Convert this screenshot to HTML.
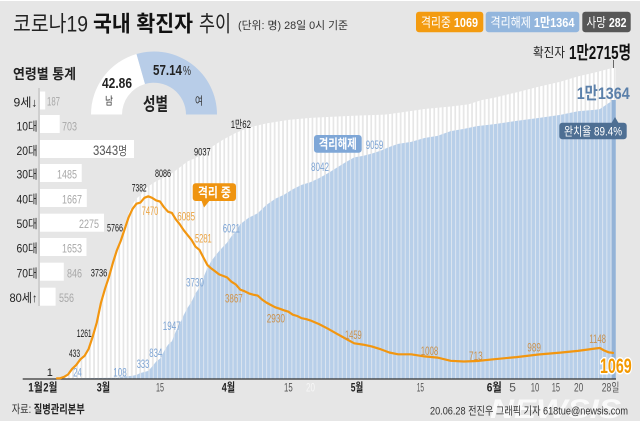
<!DOCTYPE html>
<html>
<head>
<meta charset="utf-8">
<style>
html,body{margin:0;padding:0;background:#fff}
svg{display:block}
text{font-family:"Liberation Sans","Noto Sans CJK KR",sans-serif}
</style>
</head>
<body>
<svg width="640" height="439" viewBox="0 0 640 439" xmlns="http://www.w3.org/2000/svg">
<defs>
<pattern id="pw" patternUnits="userSpaceOnUse" x="2.5" y="0" width="4.2" height="439">
<rect x="0" y="0" width="2.5" height="439" fill="#ffffff"/>
</pattern>
<pattern id="pb" patternUnits="userSpaceOnUse" x="2.5" y="0" width="4.2" height="439">
<rect x="0" y="0" width="4.2" height="439" fill="#dfe7f1"/>
<rect x="0" y="0" width="3.3" height="439" fill="#b8cfe9"/>
</pattern>
</defs>

<!-- background -->
<rect x="0" y="0" width="640" height="439" fill="#ffffff"/>
<rect x="0" y="1" width="640" height="420" fill="#e6e6e6"/>

<!-- Title -->
<text x="13" y="31.5" font-size="22" fill="#222" textLength="75" lengthAdjust="spacingAndGlyphs">코로나19</text>
<text x="93" y="31.5" font-size="22" font-weight="bold" fill="#111" textLength="100" lengthAdjust="spacingAndGlyphs">국내 확진자</text>
<text x="199" y="31.5" font-size="22" fill="#222" textLength="32" lengthAdjust="spacingAndGlyphs">추이</text>
<text x="238" y="29" font-size="11" fill="#333" textLength="110" lengthAdjust="spacingAndGlyphs">(단위: 명) 28일 0시 기준</text>

<!-- Legend badges -->
<rect x="416" y="11.7" width="67.3" height="20.6" rx="3" fill="#f39b10"/>
<text x="421" y="27" font-size="13" fill="#fff" textLength="57" lengthAdjust="spacingAndGlyphs">격리중 <tspan font-weight="bold">1069</tspan></text>
<rect x="485.7" y="11.7" width="93.6" height="20.6" rx="3" fill="#93b6dd"/>
<text x="490.5" y="27" font-size="13" fill="#fff" textLength="84" lengthAdjust="spacingAndGlyphs">격리해제 <tspan font-weight="bold">1만1364</tspan></text>
<rect x="582.3" y="11.7" width="48.4" height="20.6" rx="3" fill="#575757"/>
<text x="586.5" y="27" font-size="13" fill="#fff" textLength="40" lengthAdjust="spacingAndGlyphs">사망 <tspan font-weight="bold">282</tspan></text>

<!-- 확진자 total -->
<text x="533" y="57" font-size="13" fill="#222" textLength="32" lengthAdjust="spacingAndGlyphs">확진자</text>
<text x="569" y="59" font-size="18" font-weight="bold" fill="#111" textLength="62" lengthAdjust="spacingAndGlyphs">1만2715명</text>
<line x1="613.5" y1="60" x2="613.5" y2="68" stroke="#666" stroke-width="1"/>

<!-- Bars: cumulative confirmed (white) -->
<polygon fill="url(#pw)" points="55.8,379 55.8,378.2 64.0,376.5 72.2,368.4 80.4,358.6 88.6,348.2 92.7,335.8 96.8,321.8 100.9,302.0 105,287.6 108.9,276.0 112.9,261.3 116.8,248.7 120.7,238.0 124.7,225.3 128.6,213.5 132.5,204.5 136.5,198.4 140.4,195.2 144.4,189.3 148.3,186.5 152.2,183.8 156.2,181.2 164.0,177.5 171.9,173.2 179.8,167.4 187.6,161.4 195.5,158.0 203.4,153.0 211.2,147.2 223.1,139.6 235.8,132.9 248.9,127.5 266.5,123.4 288.4,119.9 310.3,117.9 332.3,116.8 358.6,115.5 384.9,114.6 402.4,112.2 424.4,109.0 450.7,106.5 468.3,104.4 481.4,100.1 494.5,97.6 516.5,92.4 538.4,86.8 560.3,81.7 577.9,76.4 595.4,72.4 611,68.3 616,68 616,379"/>

<!-- Bars: released (blue) -->
<polygon fill="url(#pb)" points="60,379 60,378.5 118,377.8 120.7,376.8 124.7,376.4 128.6,376.1 132.5,375.8 136.5,374.9 140.4,373.0 144.4,372.0 148.3,370.9 152.2,366.5 156.2,361.5 160.1,358.6 164.0,351.2 168.0,344.7 171.9,341.3 175.8,331.4 179.8,324.4 183.7,315.1 187.6,307.8 191.6,301.6 195.5,293.2 199.4,287.8 203.4,277.6 207.3,268.2 211.2,261.3 215.2,255.9 219.1,251.1 223.1,246.7 227.0,242.8 231.4,236.4 235.8,231.7 240.2,224.3 244.5,220.9 248.9,217.6 257.7,213.3 266.5,204.9 275.3,198.8 284.0,194.7 292.8,189.3 301.6,184.9 310.3,182.3 319.1,178.1 327.9,173.3 336.7,167.8 345.4,162.4 354.2,157.4 363.0,155.9 371.7,153.6 380.5,150.7 389.3,147.0 398.1,143.9 411.2,141.9 424.4,138.0 437.5,135.9 450.7,131.1 463.9,128.9 477.0,126.1 494.5,124.1 516.5,120.9 538.4,118.0 560.3,114.9 577.9,111.3 595.4,109.7 599.8,109.1 604.2,106.1 608.6,103.1 611.5,101.5 611.5,379"/>
<rect x="611.5" y="100" width="4.3" height="279" fill="#94b3d7"/>

<!-- Axis -->
<line x1="22.7" y1="379" x2="616" y2="379" stroke="#333" stroke-width="1.3"/>

<!-- Isolated line (orange) -->
<polyline fill="none" stroke="#f29610" stroke-width="2.2" stroke-linejoin="round" stroke-linecap="round" points="57,378.3 59.9,378.3 64.0,376.9 68.1,374.4 72.2,368.8 76.3,364.9 80.4,359.3 84.5,355.9 88.6,349.0 92.7,336.7 96.8,322.5 100.9,303.0 105.0,288.8 108.9,277.2 112.9,262.8 116.8,250.5 120.7,241.0 124.7,229.0 128.6,217.4 132.5,208.9 136.5,203.7 140.4,202.6 144.4,197.8 148.3,196.3 152.2,197.9 156.2,200.4 160.1,201.6 164.0,207.2 168.0,211.7 171.9,212.9 175.8,219.3 179.8,224.3 183.7,230.2 187.6,235.1 191.6,240.0 195.5,246.7 199.4,249.8 203.4,257.5 207.3,264.9 211.2,268.4 215.2,271.4 219.1,274.4 223.1,275.9 227.0,277.4 231.4,281.7 235.8,284.4 240.2,289.6 244.5,291.2 248.9,293.4 253.3,294.7 257.7,295.6 262.1,299.6 266.5,302.6 270.9,305.0 275.3,307.3 279.6,308.7 284.0,310.3 288.4,311.7 292.8,314.7 297.2,316.0 301.6,318.2 306.0,319.1 310.3,320.4 319.1,324.1 327.9,328.7 336.7,333.7 345.4,338.5 354.2,343.3 363.0,344.6 371.7,346.4 380.5,349.2 389.3,352.5 398.1,354.3 411.2,354.3 424.4,356.4 437.5,357.6 450.7,360.8 463.9,361.5 477.0,361.0 494.5,359.2 516.5,357.1 538.4,354.5 560.3,352.6 577.9,350.9 595.4,348.5 599.8,348.0 604.2,350.5 608.6,352.3 613.0,352.9"/>

<!-- Annotation boxes -->
<rect x="192.7" y="183.3" width="43.3" height="17.7" rx="3" fill="#ef9410"/>
<polygon points="201.5,200.8 209.5,200.8 204,207.5" fill="#ef9410"/>
<text x="197.9" y="197" font-size="13" font-weight="bold" fill="#fff" textLength="33" lengthAdjust="spacingAndGlyphs">격리 중</text>
<rect x="314" y="135" width="47.7" height="17.7" rx="3" fill="#7fa7d7"/>
<text x="318.8" y="148.5" font-size="13" font-weight="bold" fill="#fff" textLength="38" lengthAdjust="spacingAndGlyphs">격리해제</text>

<!-- Black labels (confirmed) -->
<g font-size="11" fill="#1a1a1a">
<text x="46.7" y="376">1</text>
<text x="69" y="357" textLength="11" lengthAdjust="spacingAndGlyphs">433</text>
<text x="76.7" y="337" textLength="15" lengthAdjust="spacingAndGlyphs">1261</text>
<text x="90.7" y="276.5" textLength="16.6" lengthAdjust="spacingAndGlyphs">3736</text>
<text x="107" y="231.5" textLength="16" lengthAdjust="spacingAndGlyphs">5766</text>
<text x="131.7" y="191.5" textLength="15" lengthAdjust="spacingAndGlyphs">7382</text>
<text x="155" y="177" textLength="16" lengthAdjust="spacingAndGlyphs">8086</text>
<text x="194" y="155.5" textLength="16.7" lengthAdjust="spacingAndGlyphs">9037</text>
<text x="230.7" y="128" textLength="20.3" lengthAdjust="spacingAndGlyphs">1만62</text>
</g>

<!-- Orange labels (isolated) -->
<g font-size="12" fill="#eca442">
<text x="141.7" y="215" textLength="16.6" lengthAdjust="spacingAndGlyphs">7470</text>
<text x="177.3" y="220.5" textLength="17.7" lengthAdjust="spacingAndGlyphs">6085</text>
<text x="195" y="242.5" textLength="16.7" lengthAdjust="spacingAndGlyphs">5281</text>
<text x="225" y="302.5" textLength="17.7" lengthAdjust="spacingAndGlyphs" fill="#d0934a">3867</text>
<text x="266.7" y="322.5" textLength="18.3" lengthAdjust="spacingAndGlyphs" fill="#c9914e">2930</text>
<text x="345" y="339" textLength="16.7" lengthAdjust="spacingAndGlyphs" fill="#c9914e">1459</text>
<text x="420.7" y="355" textLength="17.6" lengthAdjust="spacingAndGlyphs" fill="#c9914e">1008</text>
<text x="469" y="360" textLength="13.7" lengthAdjust="spacingAndGlyphs" fill="#c9914e">713</text>
<text x="527.3" y="351.5" textLength="13.7" lengthAdjust="spacingAndGlyphs" fill="#c9914e">989</text>
<text x="589.3" y="343" textLength="16.7" lengthAdjust="spacingAndGlyphs" fill="#c9914e">1148</text>
</g>

<!-- Blue labels (released) -->
<g font-size="12" fill="#7ea5d5">
<text x="73.3" y="376.5" textLength="8.4" lengthAdjust="spacingAndGlyphs">24</text>
<text x="113.3" y="376.5" textLength="13.4" lengthAdjust="spacingAndGlyphs">108</text>
<text x="136.7" y="368" textLength="12.6" lengthAdjust="spacingAndGlyphs">333</text>
<text x="149.3" y="357" textLength="13" lengthAdjust="spacingAndGlyphs">834</text>
<text x="162.7" y="330" textLength="18" lengthAdjust="spacingAndGlyphs">1947</text>
<text x="186" y="286.5" textLength="18" lengthAdjust="spacingAndGlyphs">3730</text>
<text x="222.7" y="232.5" textLength="17.3" lengthAdjust="spacingAndGlyphs">6021</text>
<text x="311" y="171" textLength="18" lengthAdjust="spacingAndGlyphs">8042</text>
<text x="365.7" y="149" textLength="17.6" lengthAdjust="spacingAndGlyphs">9059</text>
</g>

<!-- 1069 big -->
<text x="600" y="373" font-size="21" font-weight="bold" fill="#f39800" stroke="#fff" stroke-width="3" paint-order="stroke" stroke-linejoin="round" textLength="31.7" lengthAdjust="spacingAndGlyphs">1069</text>

<!-- 1만1364 and badge -->
<text x="576.7" y="99" font-size="17" font-weight="bold" fill="#5b80aa" textLength="53" lengthAdjust="spacingAndGlyphs">1만1364</text>
<rect x="559.3" y="122.7" width="67.4" height="16.6" rx="3" fill="#4e6f93"/>
<polygon points="611.5,123 615,117 618.5,123" fill="#4e6f93"/>
<text x="564" y="135.5" font-size="12" fill="#fff" textLength="58" lengthAdjust="spacingAndGlyphs">완치율 89.4%</text>

<!-- X axis labels -->
<g font-size="12" font-weight="bold" fill="#222">
<text x="28.3" y="391.5" textLength="14.4" lengthAdjust="spacingAndGlyphs">1월</text>
<text x="43.3" y="391.5" textLength="14" lengthAdjust="spacingAndGlyphs">2월</text>
<text x="96.7" y="391.5" textLength="13.3" lengthAdjust="spacingAndGlyphs">3월</text>
<text x="221.7" y="391.5" textLength="13.3" lengthAdjust="spacingAndGlyphs">4월</text>
<text x="350.7" y="391.5" textLength="12.6" lengthAdjust="spacingAndGlyphs">5월</text>
<text x="486.7" y="391.5" textLength="15" lengthAdjust="spacingAndGlyphs">6월</text>
</g>
<g font-size="12" fill="#555">
<text x="156" y="391.5" textLength="8" lengthAdjust="spacingAndGlyphs">15</text>
<text x="284" y="391.5" textLength="8.7" lengthAdjust="spacingAndGlyphs">15</text>
<text x="306" y="391.5" textLength="9" lengthAdjust="spacingAndGlyphs" fill="#f6f6f6">20</text>
<text x="416.7" y="391.5" textLength="7.3" lengthAdjust="spacingAndGlyphs">15</text>
<text x="509.3" y="391.5">5</text>
<text x="530.7" y="391.5" textLength="8.6" lengthAdjust="spacingAndGlyphs">10</text>
<text x="551.7" y="391.5" textLength="8.3" lengthAdjust="spacingAndGlyphs">15</text>
<text x="574" y="391.5" textLength="9.3" lengthAdjust="spacingAndGlyphs">20</text>
<text x="601.7" y="391.5" textLength="17.6" lengthAdjust="spacingAndGlyphs">28일</text>
</g>

<!-- Left panel: age stats -->
<text x="13" y="79" font-size="14" font-weight="bold" fill="#222" textLength="63" lengthAdjust="spacingAndGlyphs">연령별 통계</text>
<rect x="38" y="88" width="2" height="218" fill="#cfcfcf"/>
<g fill="#ffffff">
<rect x="40" y="91.5" width="5.2" height="18"/>
<rect x="40" y="115" width="19.7" height="18"/>
<rect x="40" y="140" width="94" height="18"/>
<rect x="40" y="164" width="41.7" height="18"/>
<rect x="40" y="189" width="46.8" height="18"/>
<rect x="40" y="213.7" width="64" height="18"/>
<rect x="40" y="238" width="46.5" height="18"/>
<rect x="40" y="262.7" width="23.8" height="18"/>
<rect x="40" y="287.7" width="15.6" height="18"/>
</g>
<g font-size="12" fill="#222" text-anchor="end">
<text x="37.5" y="106.5" textLength="24" lengthAdjust="spacingAndGlyphs">9세↓</text>
<text x="37.5" y="130.5" textLength="21" lengthAdjust="spacingAndGlyphs">10대</text>
<text x="37.5" y="155" textLength="21" lengthAdjust="spacingAndGlyphs">20대</text>
<text x="37.5" y="178.5" textLength="21" lengthAdjust="spacingAndGlyphs">30대</text>
<text x="37.5" y="203.5" textLength="21" lengthAdjust="spacingAndGlyphs">40대</text>
<text x="37.5" y="228" textLength="21" lengthAdjust="spacingAndGlyphs">50대</text>
<text x="37.5" y="252.5" textLength="21" lengthAdjust="spacingAndGlyphs">60대</text>
<text x="37.5" y="277.5" textLength="21" lengthAdjust="spacingAndGlyphs">70대</text>
<text x="37.5" y="302" textLength="28" lengthAdjust="spacingAndGlyphs">80세↑</text>
</g>
<g font-size="12" fill="#a8a8a8">
<text x="47" y="105.5" textLength="13" lengthAdjust="spacingAndGlyphs">187</text>
<text x="62" y="130.5" textLength="15" lengthAdjust="spacingAndGlyphs">703</text>
<text x="57" y="178.5" textLength="20" lengthAdjust="spacingAndGlyphs">1485</text>
<text x="62" y="203.5" textLength="20" lengthAdjust="spacingAndGlyphs">1667</text>
<text x="79" y="228" textLength="20" lengthAdjust="spacingAndGlyphs">2275</text>
<text x="62" y="252.5" textLength="20" lengthAdjust="spacingAndGlyphs">1653</text>
<text x="67" y="277.5" textLength="15" lengthAdjust="spacingAndGlyphs">846</text>
<text x="59" y="302" textLength="15" lengthAdjust="spacingAndGlyphs">556</text>
</g>
<text x="93" y="155" font-size="14" fill="#555" textLength="34" lengthAdjust="spacingAndGlyphs">3343<tspan font-size="12">명</tspan></text>

<!-- Gender gauge -->
<path d="M 91 114.5 A 63 63 0 0 1 136.5 54 L 145 84 A 32 32 0 0 0 122 114.5 Z" fill="#ffffff"/>
<path d="M 136.5 54 A 63 63 0 0 1 217 114.5 L 186 114.5 A 32 32 0 0 0 145 84 Z" fill="#b8cde8"/>
<text x="153" y="75" font-size="15" font-weight="bold" fill="#222" textLength="29" lengthAdjust="spacingAndGlyphs">57.14</text>
<text x="183" y="75" font-size="13" fill="#333" textLength="8" lengthAdjust="spacingAndGlyphs">%</text>
<text x="102" y="88" font-size="15" font-weight="bold" fill="#222" textLength="30" lengthAdjust="spacingAndGlyphs">42.86</text>
<text x="105" y="104.5" font-size="11" fill="#333" textLength="8" lengthAdjust="spacingAndGlyphs">남</text>
<text x="143" y="110.5" font-size="18" font-weight="bold" fill="#222" textLength="25" lengthAdjust="spacingAndGlyphs">성별</text>
<text x="195" y="104.5" font-size="11" fill="#333" textLength="8" lengthAdjust="spacingAndGlyphs">여</text>

<!-- Footer -->
<text x="11.7" y="413" font-size="11.5" fill="#333" textLength="73" lengthAdjust="spacingAndGlyphs">자료: <tspan font-weight="bold" fill="#222">질병관리본부</tspan></text>
<text x="490" y="418" font-size="27" font-weight="bold" font-style="italic" fill="#ffffff" fill-opacity="0.8" textLength="131" lengthAdjust="spacingAndGlyphs">NEWSIS</text>
<text x="430" y="414.5" font-size="11" fill="#333" textLength="198" lengthAdjust="spacingAndGlyphs">20.06.28 전진우 그래픽 기자 618tue@newsis.com</text>
</svg>
</body>
</html>
